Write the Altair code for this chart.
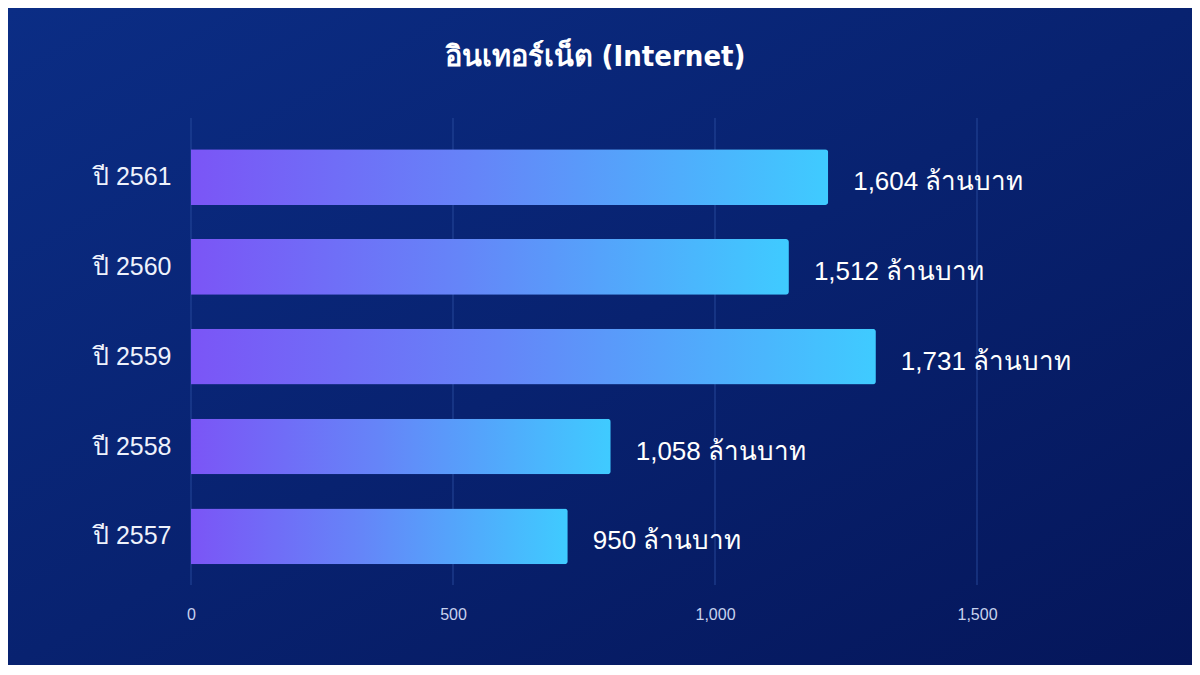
import altair as alt
import pandas as pd

title_text = ["อินเทอร์เน็ต (Internet)"]
years = ["ปี 2561", "ปี 2560", "ปี 2559", "ปี 2558", "ปี 2557"]
# bar lengths as drawn against the x axis
bar_lengths = [1216, 1141, 1307, 801, 719]
# value labels printed next to the bars
label_values = [1604, 1512, 1731, 1058, 950]
unit = "ล้านบาท"
x_ticks = [0, 500, 1000, 1500]

df = pd.DataFrame({
    "year": years,
    "bar": bar_lengths,
    "label": [f"{v:,} {unit}" for v in label_values],
})
ticks_df = pd.DataFrame({"bar": x_ticks})

W, H = 919, 467
PL, PT = 183, 110
TOTAL_W, TOTAL_H = 1184, 657
NARROW = "DejaVu Sans Condensed, Roboto, sans-serif"

bg_grad = alt.LinearGradient(
    gradient="linear", x1=0, y1=0, x2=1, y2=1,
    stops=[alt.GradientStop(offset=0, color="#0b2d85"),
           alt.GradientStop(offset=0.5, color="#082270"),
           alt.GradientStop(offset=1, color="#05165a")],
)
bar_grad = alt.LinearGradient(
    gradient="linear", x1=0, y1=0, x2=1, y2=0,
    stops=[alt.GradientStop(offset=0, color="#7b55f6"),
           alt.GradientStop(offset=0.45, color="#6585f8"),
           alt.GradientStop(offset=1, color="#3fcbff")],
)

xscale = alt.Scale(domain=[0, W / 0.524], nice=False, zero=True)
xaxis = alt.Axis(
    values=x_ticks, title=None, format=",d", domain=False, ticks=False,
    grid=False, zindex=1, labelFlush=False,
    labelColor="#c9d3ee", labelFontSize=16, labelFont="Liberation Sans",
    labelPadding=21,
)

background = alt.Chart(pd.DataFrame({"a": [0]})).mark_rect(fill=bg_grad).encode(
    x=alt.value(-PL), x2=alt.value(TOTAL_W - PL),
    y=alt.value(-PT), y2=alt.value(TOTAL_H - PT),
)

grid = alt.Chart(ticks_df).mark_rule(color="#2b4da0", strokeWidth=1, opacity=0.85).encode(
    x=alt.X("bar:Q", scale=xscale, axis=xaxis),
    y=alt.value(0), y2=alt.value(H),
)

y_enc = alt.Y(
    "year:N", sort=years,
    scale=alt.Scale(paddingInner=0.38, paddingOuter=0.29, align=0.6),
    axis=alt.Axis(
        title=None, domain=False, ticks=False, grid=False, zindex=1,
        labelColor="#eef2fc", labelFontSize=25, labelFont="Liberation Sans",
        labelPadding=20,
    ),
)

bars = alt.Chart(df).mark_bar(fill=bar_grad, cornerRadiusTopRight=3, cornerRadiusBottomRight=3).encode(
    x=alt.X("bar:Q", scale=xscale, axis=xaxis), y=y_enc,
)

labels = alt.Chart(df).mark_text(
    align="left", baseline="middle", dx=25, dy=5, color="white",
    fontSize=26, font="Liberation Sans",
).encode(x=alt.X("bar:Q", scale=xscale, axis=xaxis), y=alt.Y("year:N", sort=years), text="label:N")

title = alt.Chart(pd.DataFrame({"t": title_text})).mark_text(
    align="center", baseline="middle", color="white", fontSize=29,
    fontWeight="bold", font=NARROW,
).encode(x=alt.value(595 - 8 - PL), y=alt.value(57 - 8 - PT), text="t:N")

chart = alt.layer(background, grid, bars, labels, title).properties(
    width=W, height=H,
    autosize=alt.AutoSizeParams(type="none"),
    padding={"left": PL, "top": PT, "right": TOTAL_W - PL - W, "bottom": TOTAL_H - PT - H},
).configure_view(stroke=None).configure(background="#08226e")

chart.save("out.html", embed_options={"renderer": "svg", "actions": False})
